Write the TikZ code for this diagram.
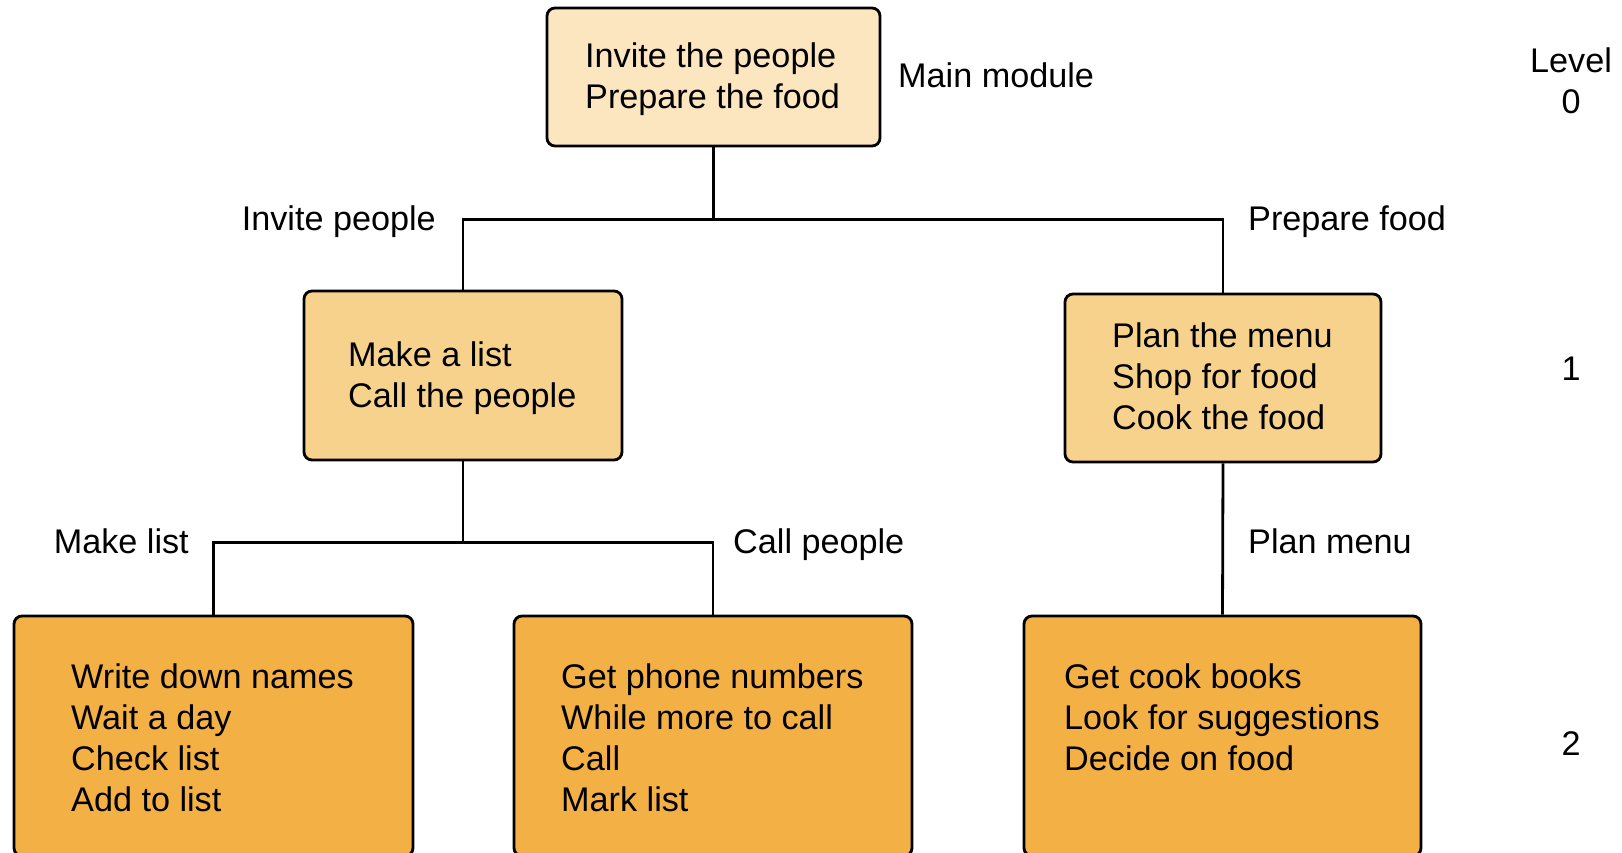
\documentclass[tikz,border=0pt]{standalone}
\usepackage{fontspec}
\setmainfont{Liberation Sans}
\definecolor{toptone}{HTML}{FCE6C0}
\definecolor{midtone}{HTML}{F7D28D}
\definecolor{lowtone}{HTML}{F3B044}
\begin{document}
\begin{tikzpicture}[x=1pt,y=-1pt,
  every node/.style={font=\fontsize{34.2}{41}\selectfont},
  module/.style={draw=black, line width=2.8pt, rounded corners=8pt, inner sep=0pt},
  lvl0/.style={module, fill=toptone},
  lvl1/.style={module, fill=midtone},
  lvl2/.style={module, fill=lowtone},
  body/.style={anchor=north west, align=left, inner sep=0pt},
  tag/.style={inner sep=0pt},
  link/.style={line width=2.8pt, draw=black}]
\useasboundingbox (0,0) rectangle (1622,853);

% module boxes
\node[lvl0, minimum width=333pt, minimum height=138pt] (main) at (713.5,77) {};
\node[lvl1, minimum width=318pt, minimum height=169pt] (l1a) at (463,375.5) {};
\node[lvl1, minimum width=316pt, minimum height=168pt] (l1b) at (1223,378) {};
\node[lvl2, minimum width=399pt, minimum height=240pt] (l2a) at (213.5,736) {};
\node[lvl2, minimum width=398pt, minimum height=240pt] (l2b) at (713,736) {};
\node[lvl2, minimum width=397pt, minimum height=240pt] (l2c) at (1222.5,736) {};

% box contents
\node[body] (main-txt) at (585,42.5) {Invite the people\\Prepare the food};
\node[body] (l1a-txt) at (348,341.5) {Make a list\\Call the people};
\node[body] (l1b-txt) at (1112,322.5) {Plan the menu\\Shop for food\\Cook the food};
\node[body] (l2a-txt) at (71,663.5) {Write down names\\Wait a day\\Check list\\Add to list};
\node[body] (l2b-txt) at (561,663.5) {Get phone numbers\\While more to call\\Call\\Mark list};
\node[body] (l2c-txt) at (1064,663.5) {Get cook books\\Look for suggestions\\Decide on food};

% connectors
\path (main.south) ++(0,72) coordinate (j0);
\path (l1a.south) ++(0,81) coordinate (j1);
\draw[link] (main.south) -- (j0);
\draw[link] (l1a.north) |- (j0) -| (l1b.north);
\draw[link] (l1a.south) -- (j1);
\draw[link] (l2a.north) |- (j1) -| (l2b.north);
\draw[link] (l1b.south) -- (l2c.north);

% connector labels
\node[tag, anchor=base west] (main-lbl) at (898,88) {Main module};
\node[tag, anchor=base east] (inv-lbl) at (436,230) {Invite people};
\node[tag, anchor=base west] (prep-lbl) at (1248,230) {Prepare food};
\node[tag, anchor=base east] (mk-lbl) at (189,553) {Make list};
\node[tag, anchor=base west] (call-lbl) at (733,553) {Call people};
\node[tag, anchor=base west] (plan-lbl) at (1248,553) {Plan menu};

% level column
\node[tag, align=center] (lev0) at (1571,81) {Level\\0};
\node[tag, anchor=base] (lev1) at (1571,380) {1};
\node[tag, anchor=base] (lev2) at (1571,755) {2};
\end{tikzpicture}
\end{document}
